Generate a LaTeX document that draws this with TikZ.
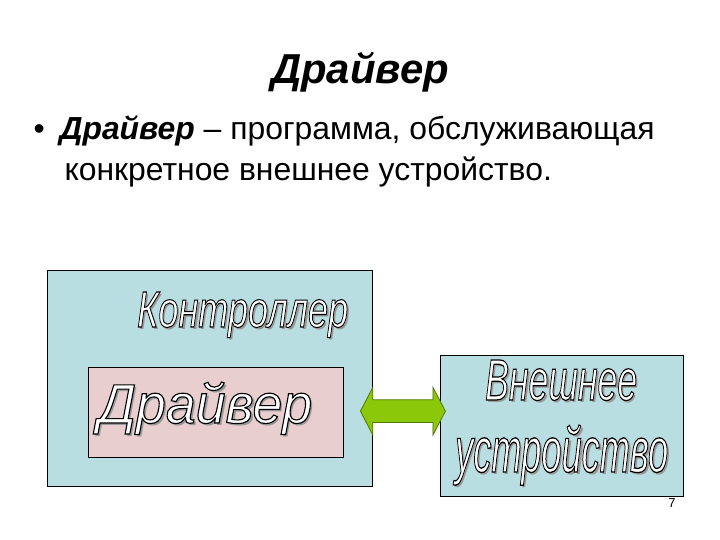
\documentclass[tikz,border=0pt]{standalone}
\usepackage{fontspec}
\setmainfont{Liberation Sans}
\usepackage{graphicx}
\usetikzlibrary{shapes.arrows,calc}

\definecolor{boxblue}{RGB}{185,222,226}
\definecolor{boxpink}{RGB}{232,206,206}
\definecolor{arrowgreen}{RGB}{140,200,10}
\definecolor{arrowedge}{RGB}{80,120,0}

% outlined label with a grey shadow: width, height, text
\newcommand{\artword}[3]{%
  \makebox[0pt][l]{\kern2.5bp\raisebox{-2.5bp}{\color{black!40}\resizebox{#1}{#2}{\fontsize{44}{48}\selectfont\itshape #3}}}%
  \resizebox{#1}{#2}{\color{white}\special{pdf:literal direct 0 G 0.9 w 2 Tr}%
    \fontsize{44}{48}\selectfont\itshape #3\special{pdf:literal direct 0 Tr}}}

\tikzset{
  panel/.style={draw=black, line width=0.8pt, inner sep=0pt, anchor=north west},
  art/.style={inner sep=0pt, anchor=base west},
}

\begin{document}
\begin{tikzpicture}[x=1bp, y=-1bp]
\path[use as bounding box, fill=white] (0,0) rectangle (720,540);

% Titulo y definicion
\node [anchor=base, font=\fontsize{42}{48}\selectfont\bfseries\itshape] (title) at (360,84) {Драйвер};
\node [anchor=base west, font=\fontsize{32}{40}\selectfont] (bullet) at (30,140) {•};
\node [anchor=base west, font=\fontsize{32}{40}\selectfont] (defn) at (56,140)
  {\textbf{\textit{Драйвер}} – программа, обслуживающая};
\node [anchor=base west, font=\fontsize{32}{40}\selectfont] (defn2) at (61,181)
  {конкретное внешнее устройство.};

% Bloques
\node [panel, fill=boxblue, minimum width=325bp, minimum height=216bp] (ctrl) at (47,270) {};
\node [panel, fill=boxpink, minimum width=255bp, minimum height=90bp] (drv) at (88,367) {};
\node [panel, fill=boxblue, minimum width=243bp, minimum height=141bp] (dev) at (440,355) {};

% Etiquetas
\node [art] (ctrllabel) at (137,327) {\artword{211bp}{35bp}{Контроллер}};
\node [art] (drvlabel) at (98,423) {\artword{214bp}{41bp}{Драйвер}};
\node [art] (devlabel) at (485,400) {\artword{152bp}{40bp}{Внешнее}};
\node [art] (devlabel2) at (455,472) {\artword{213bp}{47bp}{устройство}};

% Flecha doble
\node [double arrow, draw=arrowedge, fill=arrowgreen, line width=0.8pt, inner xsep=0pt,
  inner ysep=11bp, minimum height=85bp, double arrow head extend=12.5bp,
  double arrow tip angle=125] (link) at ($(ctrl.east)!0.5!(dev.west) + (-3.5,9)$) {};

\node [font=\fontsize{13}{15}\selectfont] (page) at (672,503) {7};
\end{tikzpicture}
\end{document}
